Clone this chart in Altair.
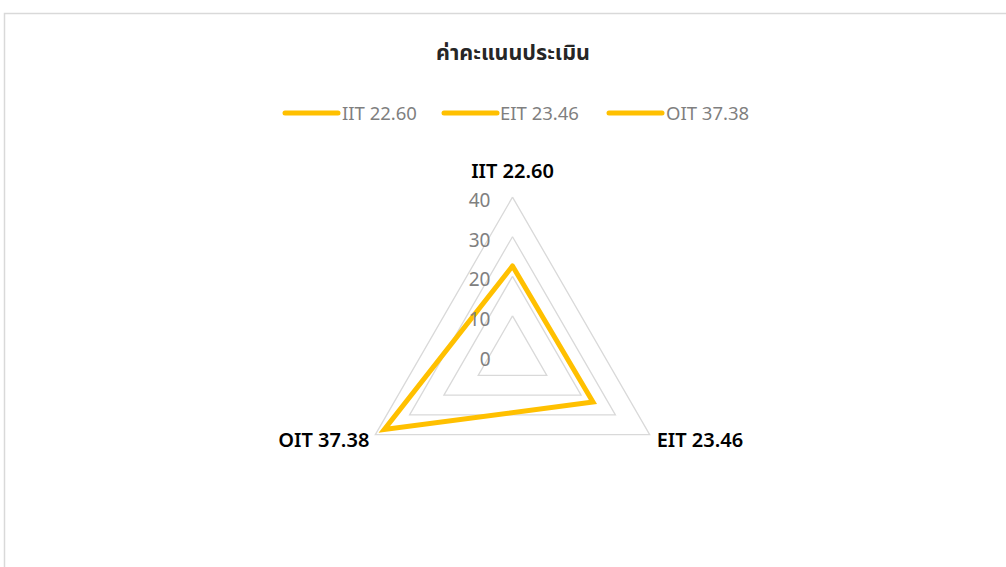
import math
import altair as alt
import pandas as pd

# ---------------- data ----------------
title_text = "ค่าคะแนนประเมิน"
categories = ["IIT", "EIT", "OIT"]
values = [22.60, 23.46, 37.38]
angles_deg = [90, -30, 210]
grid_levels = [10, 20, 30, 40]
tick_values = [0, 10, 20, 30, 40]

# ---------------- layout ----------------
W, H = 1006, 567
CX, CY, PPU = 512.5, 355.5, 3.96
x_dom = [-CX / PPU, (W - CX) / PPU]
y_dom = [-(H - CY) / PPU, CY / PPU]
YELLOW = "#FFC000"
GRID = "#D9D9D9"
FONT = "Noto Sans Thai, Noto Sans, Open Sans, sans-serif"


def pt(r, a):
    t = math.radians(a)
    return r * math.cos(t), r * math.sin(t)


grid_rows = []
for lv in grid_levels:
    for i in range(4):
        k = i % 3
        x, y = pt(lv, angles_deg[k])
        grid_rows.append({"level": lv, "order": i, "x": x, "y": y})
grid_df = pd.DataFrame(grid_rows)

ser_rows = []
for i in range(4):
    k = i % 3
    x, y = pt(values[k], angles_deg[k])
    ser_rows.append({"order": i, "x": x, "y": y})
ser_df = pd.DataFrame(ser_rows)

lab_rows = []
rmax = max(grid_levels)
for c, v, a in zip(categories, values, angles_deg):
    x, y = pt(rmax, a)
    lab_rows.append({"cat": c, "label": f"{c} {v:.2f}", "x": x, "y": y})
lab_df = pd.DataFrame(lab_rows)

tick_df = pd.DataFrame({"v": tick_values, "x": [0.0] * len(tick_values),
                        "label": [str(t) for t in tick_values]})

xs = alt.Scale(domain=x_dom, nice=False, zero=False)
ys = alt.Scale(domain=y_dom, nice=False, zero=False)
X = alt.X("x:Q", scale=xs, axis=None)
Y = alt.Y("y:Q", scale=ys, axis=None)

frame = alt.Chart(pd.DataFrame({"a": [0]})).mark_rect(
    fillOpacity=0, stroke=GRID, strokeWidth=1.5
).encode(x=alt.value(4.5), x2=alt.value(1030), y=alt.value(13.5), y2=alt.value(620))

grid = alt.Chart(grid_df).mark_line(color=GRID, strokeWidth=1.3).encode(
    x=X, y=Y, detail="level:N", order="order:Q"
)

series = alt.Chart(ser_df).mark_line(
    color=YELLOW, strokeWidth=5, strokeJoin="miter", strokeCap="round"
).encode(x=X, y=Y, order="order:Q")

ticks = alt.Chart(tick_df).mark_text(
    align="right", baseline="middle", fontSize=19, color="#808080", font=FONT,
    dx=-22, dy=4
).encode(x=X, y=alt.Y("v:Q", scale=ys, axis=None), text="label:N")

lab_specs = {
    "IIT": dict(align="center", dx=0, dy=-25),
    "EIT": dict(align="left", dx=7, dy=6),
    "OIT": dict(align="right", dx=-6, dy=6),
}
labels = []
for c in categories:
    sp = lab_specs[c]
    labels.append(
        alt.Chart(lab_df).transform_filter(alt.datum.cat == c).mark_text(
            baseline="middle", fontSize=20, fontWeight=600, color="#000000",
            font=FONT, **sp
        ).encode(x=X, y=Y, text="label:N")
    )

title = alt.Chart(pd.DataFrame({"t": [title_text]})).mark_text(
    fontSize=21.5, fontWeight="bold", color="#262626", font=FONT, align="center",
    baseline="middle"
).encode(x=alt.value(513), y=alt.value(54), text="t:N")

leg_line_x = [283, 442, 607]
leg_text_x = [342, 500, 666]
legend_layers = []
for i, (c, v) in enumerate(zip(categories, values)):
    d = pd.DataFrame({"label": [f"{c} {v:.2f}"]})
    legend_layers.append(
        alt.Chart(d).mark_rule(color=YELLOW, strokeWidth=5, strokeCap="round").encode(
            x=alt.value(leg_line_x[i] + 2), x2=alt.value(leg_line_x[i] + 55),
            y=alt.value(113))
    )
    legend_layers.append(
        alt.Chart(d).mark_text(align="left", baseline="middle", fontSize=18.5,
                               color="#7F7F7F", font=FONT).encode(
            x=alt.value(leg_text_x[i]), y=alt.value(114), text="label:N")
    )

chart = alt.layer(
    frame, grid, series, ticks, *labels, title, *legend_layers
).properties(
    width=W, height=H, padding=0, autosize=alt.AutoSizeParams(type="none")
).configure_view(stroke=None)

chart.save("out.html", embed_options={"renderer": "svg", "actions": False})
